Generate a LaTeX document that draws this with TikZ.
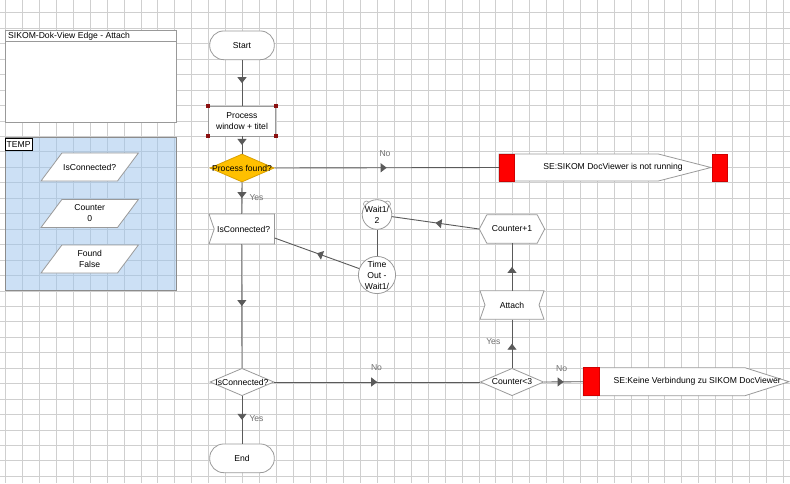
\documentclass[tikz,border=0pt]{standalone}
\usepackage{fontspec}
\setmainfont{Liberation Sans}
\usetikzlibrary{shapes.geometric,decorations.markings,arrows.meta,calc}
\definecolor{gridc}{HTML}{CFCFCF}
\definecolor{gridb}{HTML}{B4C9DE}
\definecolor{panelblue}{HTML}{CCE0F5}
\definecolor{conncol}{HTML}{5A5A5A}
\definecolor{bord}{HTML}{9A9A9A}
\definecolor{orangef}{HTML}{FFC000}
\definecolor{oranged}{HTML}{D9A000}
\definecolor{handlec}{HTML}{8B1010}
\definecolor{lblc}{HTML}{707070}
\definecolor{redb}{HTML}{D00000}
\tikzset{
  txt/.style={font=\fontsize{8.6}{11}\selectfont, align=center, inner sep=0pt, text=black},
  shp/.style={draw=bord, fill=white, line width=0.8pt},
  conn/.style={color=conncol, line width=0.9pt, postaction={decorate},
    decoration={markings, mark=at position 0.5 with {\arrow{Triangle[width=9pt,length=6pt]}}}},
  plainconn/.style={draw=conncol, line width=0.9pt},
  elbl/.style={font=\fontsize{8.6}{10}\selectfont, text=lblc, inner sep=0pt},
  stadium/.style={shp, txt, rounded corners=14pt, minimum width=64.6pt, minimum height=28.7pt},
  redmark/.style={draw=redb, fill=red, line width=0.5pt},
  handle/.style={fill=handlec}
}
\begin{document}
\begin{tikzpicture}[x=1pt,y=-1pt]
\useasboundingbox (0,0) rectangle (790,483);
% grid
\begin{scope}
\clip (0,0) rectangle (790,483);
\fill[white] (0,0) rectangle (790,483);
\foreach \i in {0,...,46} \draw[gridc, line width=0.8pt] ({5.7+16.9*\i},0) -- ({5.7+16.9*\i},483);
\foreach \j in {0,...,30} \draw[gridc, line width=0.8pt] (0,{12.8+15.45*\j}) -- (790,{12.8+15.45*\j});
\end{scope}
% top-left panel
\draw[fill=white, draw=gray!80, line width=0.9pt] (5.3,30.3) rectangle (176,122.3);
\draw[gray!80, line width=0.9pt] (5.3,41.7) -- (176,41.7);
\node[txt, anchor=west] (title) at (8,36.2) {SIKOM-Dok-View Edge - Attach};
% TEMP panel
\fill[panelblue] (5.3,137.7) rectangle (176,290);
\begin{scope}
\clip (5.3,137.7) rectangle (176,290);
\foreach \i in {0,...,10} \draw[gridb, line width=0.8pt] ({5.7+16.9*\i},137) -- ({5.7+16.9*\i},291);
\foreach \j in {8,...,19} \draw[gridb, line width=0.8pt] (0,{12.8+15.45*\j}) -- (180,{12.8+15.45*\j});
\end{scope}
\draw[draw=gray!90, line width=0.8pt] (5.3,137.7) rectangle (176,290);
\node[draw=black, fill=white, line width=0.6pt, anchor=north west, inner xsep=1.6pt, inner ysep=0pt,
      minimum height=11.4pt, font=\fontsize{8.6}{10}\selectfont] (templ) at (4.7,138.3) {TEMP};
\foreach \cy in {167,213.5,259} {
  \draw[shp] ($(89.7,\cy)+(-27.8,-14)$) -- ($(89.7,\cy)+(48.7,-14)$) -- ($(89.7,\cy)+(27.8,14)$) -- ($(89.7,\cy)+(-48.7,14)$) -- cycle;
}
\node[txt] (v1) at (89.7,167) {IsConnected?};
\node[txt] (v2) at (89.7,213.5) {Counter\\0};
\node[txt] (v3) at (89.7,259) {Found\\False};
% main column shapes
\node[stadium] (start) at (242,45.3) {Start};
\node[shp, txt, minimum width=67.7pt, minimum height=29.3pt] (proc) at (242,121.3) {Process\\window + titel};
\foreach \a in {north west, north east, south west, south east}
  \fill[handle] ($(proc.\a)+(-2,-2)$) rectangle ($(proc.\a)+(2,2)$);
\node[diamond, draw=oranged, fill=orangef, line width=0.8pt, minimum width=64.3pt, minimum height=28pt, inner sep=0pt] (pf) at (242,168) {};
\node[txt] (pft) at (pf) {Process found?};
% IsConnected? receive box
\draw[shp] (209,214) -- (274.4,214) -- (274.4,244) -- (209,244) -- (214.2,229) -- cycle;
\node[txt, minimum width=65.4pt, minimum height=30pt] (isc) at (241.7,229) {\hspace{4pt}IsConnected?};
\node[diamond, shp, minimum width=64pt, minimum height=27.4pt, inner sep=0pt] (isc2) at (242,382) {};
\node[txt] (isc2t) at (isc2) {IsConnected?};
\node[stadium] (endn) at (242,458.3) {End};
% SE SIKOM
\draw[shp] (499,154) -- (658.3,154) -- (711,167.5) -- (658.3,181) -- (499,181) -- cycle;
\draw[redmark] (499,154) rectangle (514.3,181);
\draw[redmark] (712.3,154) rectangle (727.3,181);
\node[txt, minimum width=212pt, minimum height=27pt] (se1) at (605,167.5) {\hspace{16pt}SE:SIKOM DocViewer is not running};
% Wait circles
\foreach \cy in {214.5,275} {
  \draw[shp, line width=0.6pt] (366.5,\cy-10.5) circle (3);
  \draw[shp, line width=0.6pt] (387.5,\cy-10.5) circle (3);
}
\node[shp, circle, minimum size=29pt, txt] (w12) at (377,214.5) {Wait1/\\2};
\node[shp, circle, minimum size=29pt, txt] (tout) at (377,275) {Time\\Out -\\Wait1/};
% Counter+1 hexagon
\draw[shp] (479.3,229) -- (486.8,214.8) -- (537.2,214.8) -- (544.7,229) -- (537.2,243.2) -- (486.8,243.2) -- cycle;
\node[txt, minimum width=65.4pt, minimum height=28.4pt] (cp1) at (512,229) {Counter+1};
% Attach
\draw[shp] (480,290.7) -- (544,290.7) -- (539,305) -- (544,319.3) -- (480,319.3) -- (485,305) -- cycle;
\node[txt, minimum width=64pt, minimum height=28.6pt] (att) at (512,305) {Attach};
% Counter<3
\node[diamond, shp, minimum width=63.3pt, minimum height=27.4pt, inner sep=0pt] (c3) at (512,382) {};
\node[txt] (c3t) at (c3) {Counter<3};
% SE Keine
\draw[shp] (583.3,367.7) -- (745,367.7) -- (789,381.7) -- (745,395.7) -- (583.3,395.7) -- cycle;
\draw[redmark] (583.3,367.7) rectangle (599.3,395.7);
\node[txt, minimum width=205.7pt, minimum height=28pt] (se2) at (686.2,381.7) {\hspace{22pt}SE:Keine Verbindung zu SIKOM DocViewer};
% connectors
\draw[conn] (start.south) -- (proc.north);
\draw[conn] (proc.south) -- (pf.north);
\draw[conn] (pf.east) -- (se1.west);
\draw[conn] (pf.south) -- (isc.north);
\draw[conn] (isc.south) -- (isc2.north);
\draw[conn] (isc2.east) -- (c3.west);
\draw[conn] (isc2.south) -- (endn.north);
\draw[conn] (c3.north) -- (att.south);
\draw[conn] (c3.east) -- (se2.west);
\draw[conn] (att.north) -- (cp1.south);
\draw[conn] (cp1.west) -- (w12);
\draw[plainconn] (w12.south) -- (tout.north);
\draw[conn] (tout) -- ([yshift=-9pt]isc.east);
% edge labels
\node[elbl] (lno1) at (385,154) {No};
\node[elbl, anchor=west] (lyes1) at (249.3,197.3) {Yes};
\node[elbl] (lno2) at (376.5,368) {No};
\node[elbl, anchor=west] (lyes2) at (249.3,418.5) {Yes};
\node[elbl, anchor=east] (lyes3) at (500.5,342) {Yes};
\node[elbl] (lno3) at (561.7,368.3) {No};
\end{tikzpicture}
\end{document}
